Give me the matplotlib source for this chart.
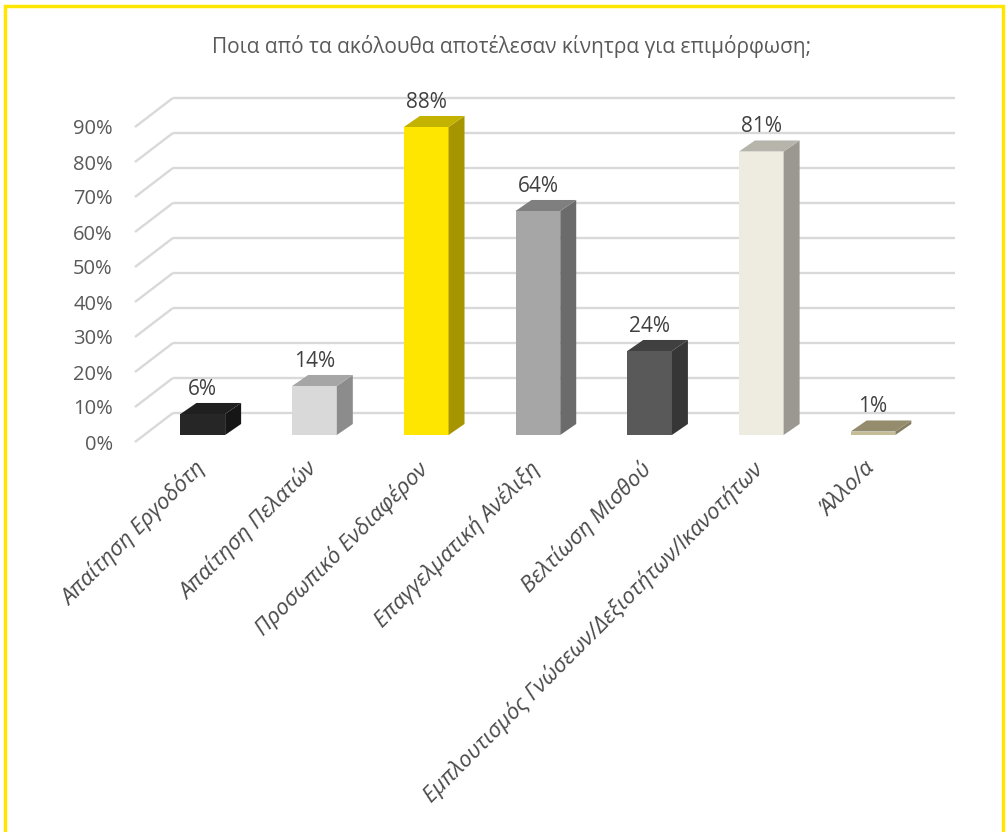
import matplotlib
matplotlib.use("Agg")
import matplotlib.pyplot as plt
from matplotlib.patches import Polygon, Rectangle

# ---- data ----
categories = [
    "Απαίτηση Εργοδότη",
    "Απαίτηση Πελατών",
    "Προσωπικό Ενδιαφέρον",
    "Επαγγελματική Ανέλιξη",
    "Βελτίωση Μισθού",
    "Εμπλουτισμός Γνώσεων/Δεξιοτήτων/Ικανοτήτων",
    "Άλλο/α",
]
values = [6, 14, 88, 64, 24, 81, 1]
value_labels = ["6%", "14%", "88%", "64%", "24%", "81%", "1%"]
y_ticks = [0, 10, 20, 30, 40, 50, 60, 70, 80, 90]
y_tick_labels = ["0%", "10%", "20%", "30%", "40%", "50%", "60%", "70%", "80%", "90%"]
title = "Ποια από τα ακόλουθα αποτέλεσαν κίνητρα για επιμόρφωση;"

front_colors = ["#262626", "#d9d9d9", "#ffe600", "#a6a6a6", "#595959", "#eeece1", "#c4bd97"]
top_colors   = ["#1f1f1f", "#a6a6a6", "#c4b200", "#7f7f7f", "#404040", "#b6b4ab", "#948c6c"]
side_colors  = ["#161616", "#8c8c8c", "#a69500", "#6b6b6b", "#363636", "#9a9890", "#857e60"]

# ---- style / geometry (pseudo-3D) ----
W, H = 1007, 832
fig = plt.figure(figsize=(W / 100, H / 100), dpi=100)
ax = fig.add_axes([135 / W, (H - 442) / H, 821 / W, 350 / H])
ax.set_xlim(-0.5, 6.85)
ax.set_ylim(0, 100)
for s in ax.spines.values():
    s.set_visible(False)

wall_dx, wall_dy = 0.34, 8.3      # depth offset of back wall
bar_fx, bar_fy = 0.107, 2.0       # front face offset of bars
bar_dx, bar_dy = 0.143, 3.15      # bar depth
half_w = 0.2

grid_color = "#d9d9d9"
n = len(categories)
for v in y_ticks:
    ax.plot([-0.5, -0.5 + wall_dx], [v, v + wall_dy], color=grid_color, lw=1.7,
            zorder=1, clip_on=False, solid_capstyle="butt")
    ax.plot([-0.5 + wall_dx, n - 0.5 + wall_dx], [v + wall_dy, v + wall_dy],
            color=grid_color, lw=1.7, zorder=1, clip_on=False, solid_capstyle="butt")

for i, v in enumerate(values):
    cx = i + bar_fx
    x0, x1 = cx - half_w, cx + half_w
    y0, y1 = bar_fy, bar_fy + v
    front = Polygon([(x0, y0), (x1, y0), (x1, y1), (x0, y1)], closed=True,
                    facecolor=front_colors[i], edgecolor="none", zorder=3, clip_on=False)
    side = Polygon([(x1, y0), (x1 + bar_dx, y0 + bar_dy), (x1 + bar_dx, y1 + bar_dy), (x1, y1)],
                   closed=True, facecolor=side_colors[i], edgecolor="none", zorder=3, clip_on=False)
    top = Polygon([(x0, y1), (x1, y1), (x1 + bar_dx, y1 + bar_dy), (x0 + bar_dx, y1 + bar_dy)],
                  closed=True, facecolor=top_colors[i], edgecolor="none", zorder=3, clip_on=False)
    for p in (front, side, top):
        ax.add_patch(p)
    ax.annotate(value_labels[i], xy=(cx, y1 + bar_dy), xytext=(0, 10), textcoords="offset points",
                ha="center", va="center", fontsize=15, color="#404040",
                family="Open Sans", zorder=5, annotation_clip=False)

ax.set_yticks(y_ticks)
ax.set_yticklabels(y_tick_labels, family="Open Sans", fontsize=14.5, color="#595959")
ax.tick_params(axis="y", length=0, pad=16)
ax.set_xticks([])

for i, lab in enumerate(categories):
    ax.annotate(lab, xy=(i + bar_fx, 0), xytext=(-1, -17), textcoords="offset points",
                ha="right", va="center", rotation=45, rotation_mode="anchor",
                fontsize=16, style="italic", color="#4a4a4a", family="Open Sans",
                annotation_clip=False)

fig.text(512 / W, 1 - 47 / H, title, ha="center", va="center", fontsize=15,
         color="#595959", family="Open Sans")

border = Rectangle((5 / W, -0.02), (1003 - 5) / W, 1 - 6 / H + 0.02, transform=fig.transFigure,
                   fill=False, edgecolor="#ffe600", lw=2.5, zorder=10)
fig.patches.append(border)

fig.savefig("out.png", dpi=100, facecolor="white")
